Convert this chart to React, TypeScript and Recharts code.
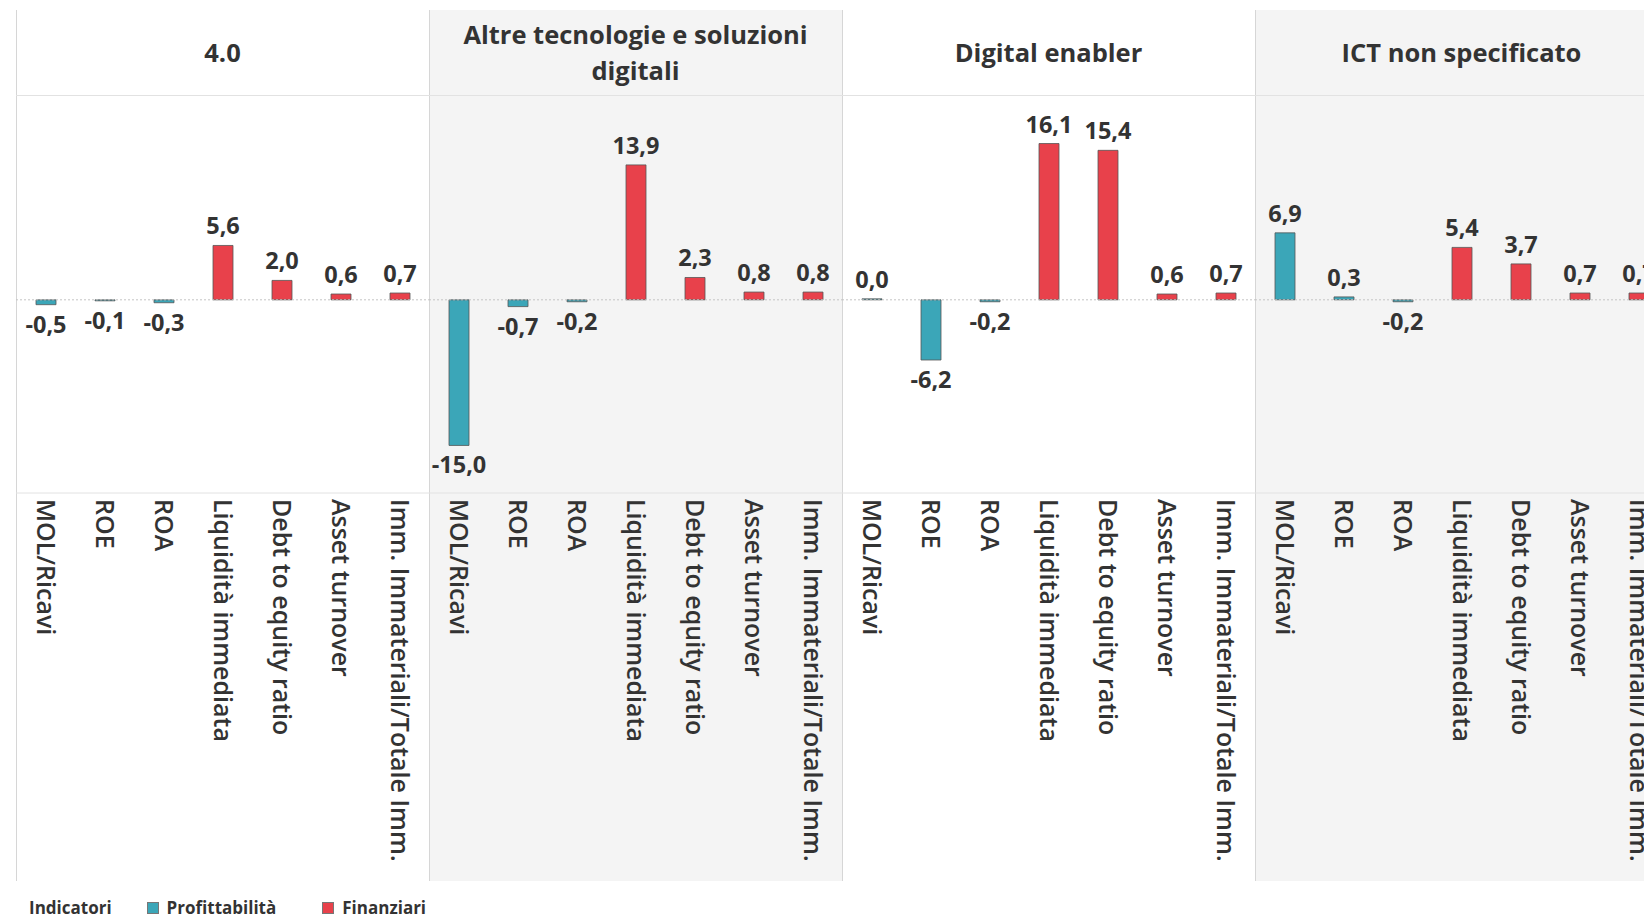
import React from 'react';
import { BarChart, Bar, XAxis, YAxis, Cell, LabelList, ReferenceLine } from 'recharts';

const CATEGORIES = [
  'MOL/Ricavi',
  'ROE',
  'ROA',
  'Liquidità immediata',
  'Debt to equity ratio',
  'Asset turnover',
  'Imm. Immateriali/Totale Imm.',
];
const INDICATOR_TYPE = [
  'Profittabilità',
  'Profittabilità',
  'Profittabilità',
  'Finanziari',
  'Finanziari',
  'Finanziari',
  'Finanziari',
];
const GROUPS = ['4.0', 'Altre tecnologie e soluzioni digitali', 'Digital enabler', 'ICT non specificato'];
const VALUES_40 = [-0.5, -0.1, -0.3, 5.6, 2.0, 0.6, 0.7];
const VALUES_ALTRE = [-15.0, -0.7, -0.2, 13.9, 2.3, 0.8, 0.8];
const VALUES_DIGITAL = [0.0, -6.2, -0.2, 16.1, 15.4, 0.6, 0.7];
const VALUES_ICT = [6.9, 0.3, -0.2, 5.4, 3.7, 0.7, 0.7];
const GROUP_VALUES = [VALUES_40, VALUES_ALTRE, VALUES_DIGITAL, VALUES_ICT];
const LEGEND_TITLE = 'Indicatori';
const LEGEND_ITEMS = ['Profittabilità', 'Finanziari'];

const COLORS: Record<string, string> = {
  'Profittabilità': '#3ba6b8',
  'Finanziari': '#e8414b',
};

const FONT = '"Open Sans", "Noto Sans", sans-serif';
const TEXT = '#333333';
const PANEL_W = 413;
const PANEL_LEFT = 15.5;
const TOP = 10;
const HEADER_H = 85;
const CHART_H = 786;
const PLOT_H = 398;

const fmt = (v: number) => v.toFixed(1).replace('.', ',');

const CatTick = (props: any) => {
  const { x, y, payload } = props;
  return (
    <text
      x={0}
      y={0}
      transform={`translate(${x},${y - 2}) rotate(90)`}
      textAnchor="start"
      dy="0.36em"
      fontFamily={FONT}
      fontSize={25}
      fontWeight={600}
      fill={TEXT}
    >
      {payload.value}
    </text>
  );
};

const ValueLabel = (props: any) => {
  const { x, y, width, height, value } = props;
  const top = Math.min(y, y + height);
  const bottom = Math.max(y, y + height);
  const cx = x + width / 2;
  const v = Number(value);
  const ty = v < 0 ? bottom + 28 : top - 11;
  return (
    <text x={cx} y={ty} textAnchor="middle" fontFamily={FONT} fontSize={23.5} fontWeight={700} fill={TEXT}>
      {fmt(v)}
    </text>
  );
};

const Panel = ({ idx }: { idx: number }) => {
  const data = CATEGORIES.map((name, i) => ({
    name,
    value: GROUP_VALUES[idx][i],
    type: INDICATOR_TYPE[i],
  }));
  const gray = idx % 2 === 1;
  return (
    <div
      style={{
        position: 'absolute',
        left: PANEL_LEFT + idx * PANEL_W,
        top: TOP,
        width: PANEL_W,
        height: HEADER_H + CHART_H,
        background: gray ? '#f4f4f4' : '#ffffff',
        borderLeft: '1px solid #d6d6d6',
        boxSizing: 'border-box',
      }}
    >
      <div
        style={{
          height: HEADER_H,
          display: 'flex',
          alignItems: 'center',
          justifyContent: 'center',
          textAlign: 'center',
          fontFamily: FONT,
          fontWeight: 700,
          fontSize: 25.5,
          lineHeight: '36px',
          color: TEXT,
          padding: '0 22px 2px',
          boxSizing: 'border-box',
        }}
      >
        {GROUPS[idx]}
      </div>
      <div style={{ position: 'absolute', left: -1, top: HEADER_H }}>
        <BarChart
          width={PANEL_W}
          height={CHART_H}
          data={data}
          margin={{ top: 0, right: 0, bottom: 0, left: 0 }}
          barCategoryGap={0}
        >
          <YAxis hide domain={[-19.9, 21.1]} type="number" allowDataOverflow />
          <XAxis
            dataKey="name"
            interval={0}
            tickLine={false}
            axisLine={{ stroke: '#e2e2e2' }}
            height={CHART_H - PLOT_H}
            tick={<CatTick />}
          />
          <ReferenceLine y={0} stroke="#c4c4c4" strokeDasharray="2 2" />
          <Bar
            dataKey="value"
            barSize={20}
            minPointSize={1}
            isAnimationActive={false}
            stroke="#555555"
            strokeWidth={0.8}
          >
            {data.map((d, i) => (
              <Cell key={i} fill={COLORS[d.type]} />
            ))}
            <LabelList dataKey="value" content={<ValueLabel />} />
          </Bar>
        </BarChart>
      </div>
    </div>
  );
};

export default function App() {
  return (
    <div
      style={{
        position: 'absolute',
        left: 0,
        top: 0,
        width: 1644,
        height: 920,
        overflow: 'hidden',
        background: '#ffffff',
      }}
    >
      {GROUPS.map((_, i) => (
        <Panel key={i} idx={i} />
      ))}
      <div
        style={{
          position: 'absolute',
          left: PANEL_LEFT,
          top: TOP + HEADER_H,
          width: 1644,
          height: 1,
          background: '#e2e2e2',
        }}
      />
      <div
        style={{
          position: 'absolute',
          left: 29,
          top: 898,
          display: 'flex',
          alignItems: 'center',
          fontFamily: FONT,
          fontSize: 17,
          lineHeight: '20px',
          color: TEXT,
          height: 20,
        }}
      >
        <span style={{ fontWeight: 700, marginRight: 35 }}>{LEGEND_TITLE}</span>
        {LEGEND_ITEMS.map((it, i) => (
          <span key={it} style={{ display: 'flex', alignItems: 'center', marginRight: i === 0 ? 46 : 0 }}>
            <span
              style={{
                width: 12,
                height: 12,
                background: COLORS[it],
                border: '1px solid #777',
                boxSizing: 'border-box',
                marginRight: 8,
              }}
            />
            <span style={{ fontWeight: 700 }}>{it}</span>
          </span>
        ))}
      </div>
    </div>
  );
}
